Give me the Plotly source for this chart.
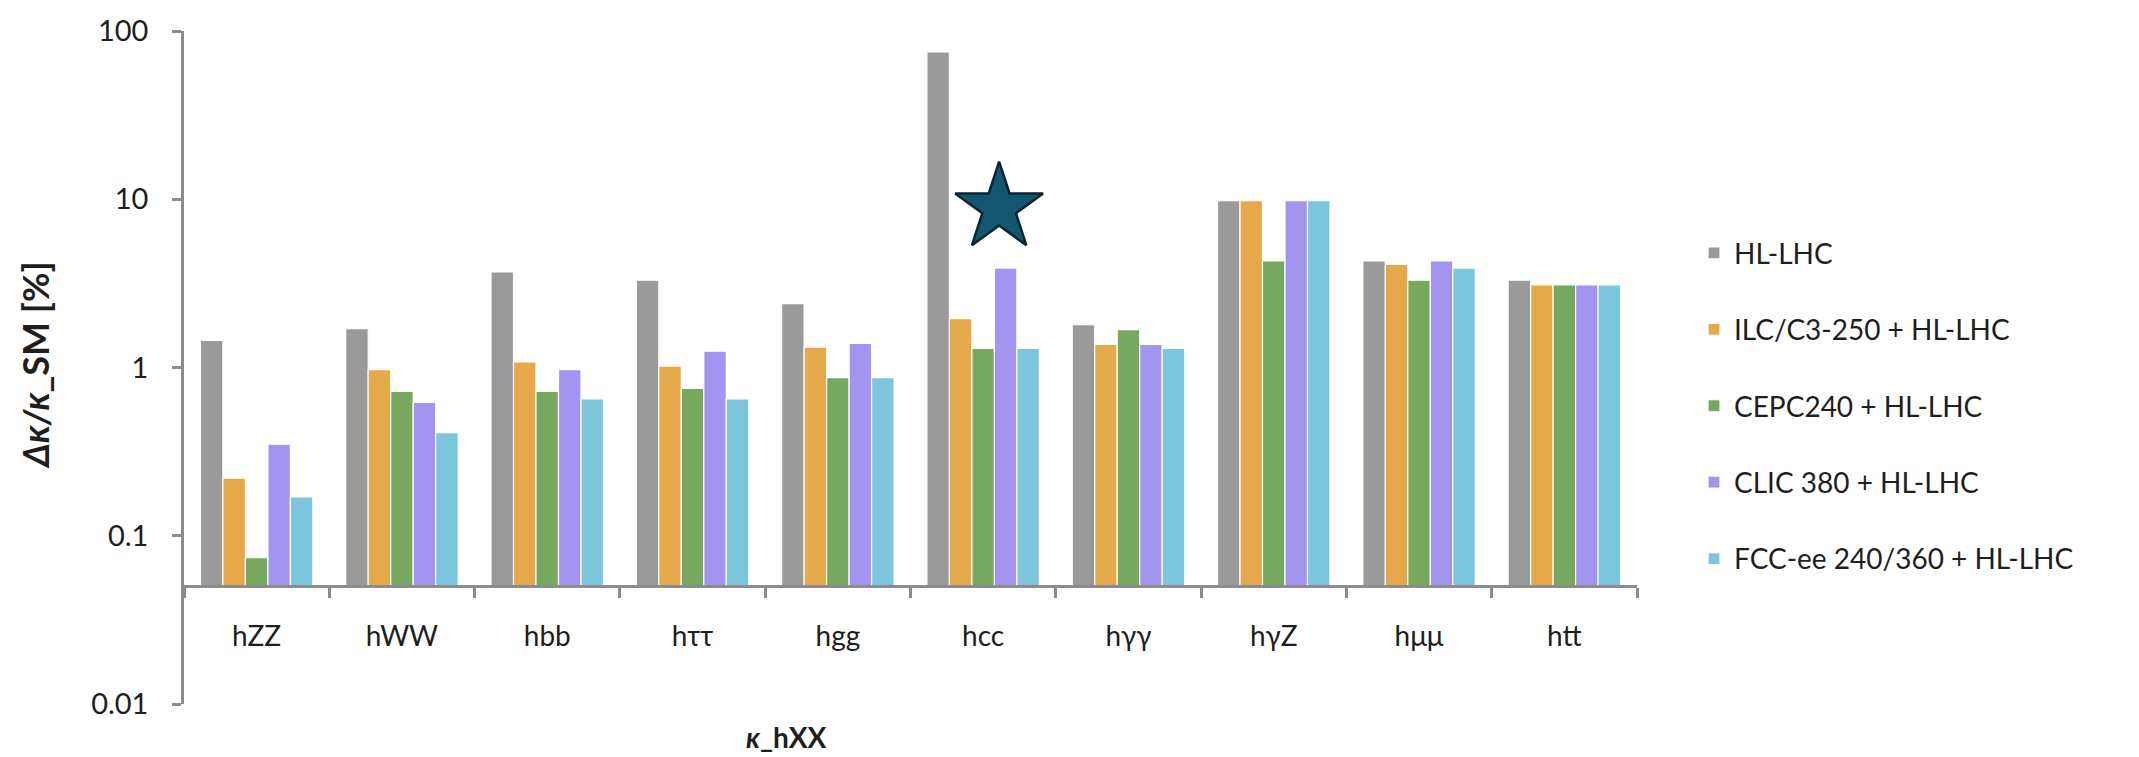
import math
import plotly.graph_objects as go

categories = ["hZZ", "hWW", "hbb", "hττ", "hgg", "hcc", "hγγ", "hγZ", "hμμ", "htt"]
series_names = ["HL-LHC", "ILC/C3-250 + HL-LHC", "CEPC240 + HL-LHC",
                "CLIC 380 + HL-LHC", "FCC-ee 240/360 + HL-LHC"]
hl_lhc = [1.45, 1.7, 3.7, 3.3, 2.4, 75, 1.8, 9.8, 4.3, 3.3]
ilc = [0.22, 0.97, 1.08, 1.02, 1.32, 1.95, 1.37, 9.8, 4.1, 3.1]
cepc = [0.074, 0.72, 0.72, 0.75, 0.87, 1.3, 1.68, 4.3, 3.3, 3.1]
clic = [0.35, 0.62, 0.97, 1.25, 1.39, 3.9, 1.37, 9.8, 4.3, 3.1]
fcc = [0.17, 0.41, 0.65, 0.65, 0.87, 1.3, 1.3, 9.8, 3.9, 3.1]
colors = ["#9a9a9a", "#e5a84b", "#77a85f", "#a394ef", "#7bc5dd"]
y_tick_vals = [0.01, 0.1, 1, 10, 100]
y_tick_text = ["0.01", "0.1", "1", "10", "100"]
bar_base = 0.05
star_x, star_y = 5.11, 8.9

W, H = 2139, 757
ML, MR, MT, MB = 184, 502, 25, 53
PW = W - ML - MR
PH = H - MT - MB
FONT = "Lato"
TXT = "#1e1e1e"
AX = "#8c8c8c"

xs = list(range(len(categories)))
fig = go.Figure()
for name, vals, c in zip(series_names, [hl_lhc, ilc, cepc, clic, fcc], colors):
    fig.add_trace(go.Bar(
        x=xs, y=[v - bar_base for v in vals], base=bar_base, name=name,
        marker=dict(color=c, line=dict(color="white", width=1.2)),
        legendgroup=name,
    ))

fig.add_trace(go.Scatter(
    x=[star_x], y=[star_y], mode="markers", showlegend=False,
    marker=dict(symbol="star", size=66, color="#13566f",
                line=dict(color="#0a2432", width=2.5)),
))

ypos = (math.log10(bar_base) + 2) / 4

fig.update_layout(
    width=W, height=H,
    margin=dict(l=ML, r=MR, t=MT, b=MB, pad=0),
    paper_bgcolor="white", plot_bgcolor="white",
    barmode="group", bargap=0.226, bargroupgap=0,
    font=dict(family=FONT, size=27, color=TXT),
    legend=dict(
        x=(1694 - ML) / PW, xanchor="left",
        y=(H - MB - 224) / PH, yanchor="top",
        font=dict(family=FONT, size=28, color=TXT),
        tracegroupgap=37, bgcolor="rgba(0,0,0,0)",
    ),
    xaxis=dict(
        range=[-0.5, len(categories) - 0.5],
        tickmode="array", tickvals=xs, ticktext=categories,
        ticks="outside", ticklen=10, tickcolor="rgba(0,0,0,0)",
        ticklabelstandoff=14,
        showline=True, linecolor=AX, linewidth=3,
        showgrid=False, zeroline=False,
        anchor="free", position=ypos,
        tickfont=dict(family=FONT, size=28, color=TXT),
        minor=dict(tickmode="array",
                   tickvals=[i - 0.5 for i in range(len(categories) + 1)],
                   ticks="outside", ticklen=10, tickcolor=AX, tickwidth=2.5,
                   showgrid=False),
    ),
    yaxis=dict(
        type="log", range=[-2, 2],
        tickmode="array", tickvals=y_tick_vals, ticktext=y_tick_text,
        ticks="outside", ticklen=9, tickcolor=AX, tickwidth=2.5,
        ticklabelstandoff=18,
        showline=True, linecolor=AX, linewidth=2.5,
        showgrid=False, zeroline=False,
        tickfont=dict(family=FONT, size=29, color=TXT),
    ),
    annotations=[
        dict(text="<b><i>κ</i>_hXX</b>", xref="paper", yref="paper",
             x=(786 - ML) / PW, y=(H - MB - 737) / PH,
             xanchor="center", yanchor="middle", showarrow=False,
             font=dict(family=FONT, size=28, color=TXT)),
        dict(text="<b><i>Δκ/κ</i>_SM [%]</b>", xref="paper", yref="paper",
             x=(35 - ML) / PW, y=(H - MB - 362) / PH, textangle=-90,
             xanchor="center", yanchor="middle", showarrow=False,
             font=dict(family=FONT, size=36, color=TXT)),
    ],
)

fig.write_html("out.html", config={"displayModeBar": False},
               post_script="document.body.style.margin='0';document.body.style.overflow='hidden';")
